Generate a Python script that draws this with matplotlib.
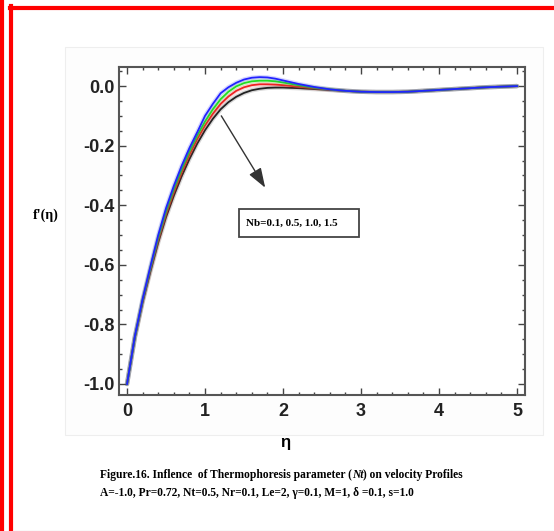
import numpy as np
import matplotlib
matplotlib.use("Agg")
import matplotlib.pyplot as plt
from matplotlib.patches import Rectangle
from matplotlib.lines import Line2D
from matplotlib.ticker import MultipleLocator

# velocity profiles f'(eta) for four values of Nb
eta = [0.0, 0.1, 0.2, 0.3, 0.4, 0.5, 0.6, 0.7, 0.8, 0.9, 1.0, 1.1, 1.2, 1.3,
       1.4, 1.5, 1.6, 1.7, 1.8, 1.9, 2.0, 2.2, 2.4, 2.6, 2.8, 3.0, 3.2, 3.4,
       3.6, 3.8, 4.0, 4.2, 4.4, 4.6, 4.8, 5.0]

fp_black = [-1.0, -0.845, -0.725, -0.622, -0.525, -0.44, -0.368, -0.303, -0.245,
            -0.193, -0.148, -0.110, -0.078, -0.054, -0.036, -0.023, -0.014, -0.009,
            -0.006, -0.005, -0.005, -0.007, -0.010, -0.013, -0.016, -0.019, -0.020,
            -0.020, -0.019, -0.016, -0.013, -0.010, -0.007, -0.004, -0.002, 0.0]
fp_red = [-1.0, -0.843, -0.722, -0.616, -0.517, -0.43, -0.356, -0.290, -0.231,
          -0.178, -0.132, -0.093, -0.060, -0.035, -0.016, -0.004, 0.003, 0.006,
          0.006, 0.005, 0.003, -0.002, -0.007, -0.012, -0.016, -0.019, -0.020,
          -0.020, -0.019, -0.016, -0.013, -0.010, -0.007, -0.004, -0.002, 0.0]
fp_green = [-1.0, -0.842, -0.718, -0.610, -0.508, -0.42, -0.345, -0.279, -0.219,
            -0.166, -0.119, -0.078, -0.044, -0.019, -0.001, 0.010, 0.016, 0.018,
            0.018, 0.016, 0.012, 0.003, -0.005, -0.011, -0.016, -0.019, -0.020,
            -0.020, -0.019, -0.016, -0.013, -0.010, -0.007, -0.004, -0.002, 0.0]
fp_blue = [-1.0, -0.84, -0.715, -0.605, -0.50, -0.41, -0.335, -0.268, -0.208,
           -0.155, -0.100, -0.060, -0.024, -0.004, 0.011, 0.022, 0.028, 0.030,
           0.029, 0.025, 0.019, 0.007, -0.003, -0.011, -0.016, -0.019, -0.020,
           -0.020, -0.019, -0.016, -0.013, -0.010, -0.007, -0.004, -0.002, 0.0]

curves = [fp_black, fp_red, fp_green, fp_blue]
colors = ["#222222", "#ee2222", "#22dd22", "#2222ff"]

x_ticks = [0, 1, 2, 3, 4, 5]
y_ticks = [0.0, -0.2, -0.4, -0.6, -0.8, -1.0]

sans = ["Liberation Sans", "DejaVu Sans"]
serif = ["Liberation Serif", "DejaVu Serif"]

fig = plt.figure(figsize=(5.54, 5.31), dpi=100)

# faint page background box
fig.patches.append(Rectangle((65 / 554, 1 - 435 / 531), 478 / 554, 388 / 531,
                             transform=fig.transFigure, fc="#fdfdfd",
                             ec="#eeeeee", lw=0.8, zorder=-5))

ax = fig.add_axes([0.2148, 0.2561, 0.7329, 0.6177])
ax.set_facecolor("white")
for c, y in zip(colors, curves):
    ax.plot(eta, y, color=c, lw=3.2, alpha=0.18, solid_capstyle="round")
    ax.plot(eta, y, color=c, lw=1.3)

ax.set_xlim(-0.103, 5.103)
ax.set_ylim(-1.037, 0.064)
ax.set_xticks(x_ticks)
ax.set_yticks(y_ticks)
ax.set_yticklabels([f"{v:.1f}" for v in y_ticks])
ax.xaxis.set_minor_locator(MultipleLocator(0.2))
ax.yaxis.set_minor_locator(MultipleLocator(0.05))
ax.tick_params(which="both", direction="in", top=True, right=True,
               color="#444444", width=1.0)
ax.tick_params(which="major", length=5)
ax.tick_params(which="minor", length=2.5)
ax.tick_params(axis="x", pad=6)
ax.tick_params(axis="y", pad=3)
for lbl in ax.get_xticklabels() + ax.get_yticklabels():
    lbl.set_family(sans)
    lbl.set_fontweight("bold")
    lbl.set_fontsize(13)
    lbl.set_color("#222222")
for s in ax.spines.values():
    s.set_color("#555555")
    s.set_linewidth(1.5)

# arrow and parameter box
ax.annotate("", xy=(1.79, -0.349), xytext=(1.19, -0.092),
            arrowprops=dict(arrowstyle="-|>,head_length=0.8,head_width=0.28",
                            color="#333333", lw=1.0, mutation_scale=15))
ax.add_patch(Rectangle((1.44, -0.508), 1.53, 0.094, fc="white",
                       ec="#444444", lw=1.3, zorder=5))
ax.text(1.53, -0.461, "Nb=0.1, 0.5, 1.0, 1.5", family=serif,
        fontweight="bold", fontsize=8, va="center", ha="left", zorder=6)

fig.text(46 / 554, 1 - 215 / 531, "f'(\u03b7)", family=serif,
         fontweight="bold", fontsize=10, ha="center", va="center")
fig.text(285 / 554, 1 - 443 / 531, "\u03b7", family=sans,
         fontweight="bold", fontsize=12, ha="center", va="center")

# caption
t1 = fig.text(100 / 554, 1 - 475 / 531,
              "Figure.16. Inflence  of Thermophoresis parameter (",
              family=serif, fontweight="bold", fontsize=8.3, va="center")
t2 = fig.text(0, 0, "Nt", family=serif, fontweight="bold", style="italic",
              fontsize=8.3, va="baseline")
t3 = fig.text(0, 0, ") on velocity Profiles", family=serif,
              fontweight="bold", fontsize=8.3, va="baseline")
fig.canvas.draw()
r = fig.canvas.get_renderer()
b1 = t1.get_window_extent(r)
inv = fig.transFigure.inverted()
base = inv.transform((b1.x1, 0))[0]
_, ybase = inv.transform((0, b1.y0 + 0.22 * b1.height))
t2.set_position((base, ybase))
b2 = t2.get_window_extent(r)
t3.set_position((inv.transform((b2.x1, 0))[0], ybase))
fig.text(100 / 554, 1 - 493 / 531,
         "A=-1.0, Pr=0.72, Nt=0.5, Nr=0.1, Le=2, \u03b3=0.1, M=1, \u03b4 =0.1, s=1.0",
         family=serif, fontweight="bold", fontsize=8.3, va="center")

# red page frame
red = "#ff0000"
fig.lines.append(Line2D([2 / 554, 2 / 554], [0, 1], transform=fig.transFigure,
                        color=red, lw=3.0))
fig.lines.append(Line2D([11 / 554, 11 / 554], [0, 1 - 6 / 531],
                        transform=fig.transFigure, color=red, lw=3.0))
fig.lines.append(Line2D([9.5 / 554, 1], [1 - 8 / 531, 1 - 8 / 531],
                        transform=fig.transFigure, color=red, lw=3.0))
fig.lines.append(Line2D([13 / 554, 1], [0.5 / 531, 0.5 / 531],
                        transform=fig.transFigure, color="#e4e4e4", lw=1.0))

fig.savefig("out.png", dpi=100)
